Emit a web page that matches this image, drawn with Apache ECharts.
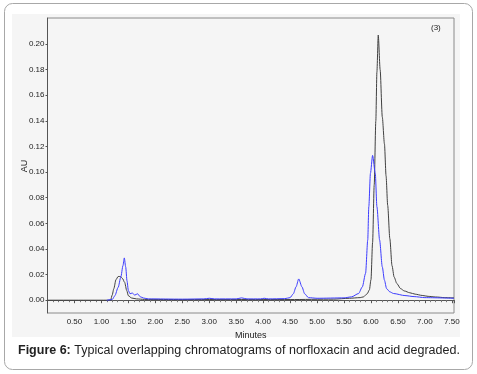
<!DOCTYPE html>
<html>
<head>
<meta charset="utf-8">
<script src="https://cdn.jsdelivr.net/npm/echarts@6/dist/echarts.min.js"></script>
<style>
  html, body { margin: 0; padding: 0; background: #fff; }
  #chart { width: 477px; height: 374px; }
</style>
</head>
<body>
<div id="chart"></div>
<script>
"use strict";

// 读图得到的数据 (minutes / AU)
var blackTime = [0, 1.17, 1.2, 1.23, 1.27, 1.31, 1.35, 1.39, 1.43, 1.47, 1.5, 1.56, 1.65, 1.8, 2.5, 3.5, 4.5, 5.3,
    5.6, 5.8, 5.86, 5.93, 5.97, 6.0, 6.03, 6.06, 6.09, 6.11, 6.135, 6.17, 6.21, 6.25, 6.28, 6.31, 6.35, 6.39,
    6.43, 6.48, 6.55, 6.62, 6.72, 6.82, 6.95, 7.06, 7.2, 7.37, 7.54];
var blackAU = [0, 0, 0.004, 0.009, 0.016, 0.0185, 0.0185, 0.017, 0.014, 0.0075, 0.0035, 0.0017, 0.001, 0.0006, 0.0005, 0.0005, 0.0005, 0.0008,
    0.0015, 0.002, 0.0026, 0.005, 0.008, 0.016, 0.045, 0.09, 0.14, 0.178, 0.207, 0.18, 0.143, 0.122, 0.097, 0.074, 0.048, 0.027,
    0.018, 0.013, 0.009, 0.0072, 0.0058, 0.0047, 0.0037, 0.003, 0.0025, 0.002, 0.0018];

var blueTime = [1.1, 1.2, 1.25, 1.31, 1.36, 1.4, 1.425, 1.45, 1.475, 1.5, 1.53, 1.57, 1.62, 1.67, 1.72, 1.78, 1.87,
    2.5, 2.9, 3.0, 3.1, 3.5, 3.6, 3.7, 3.95, 4.02, 4.1, 4.4, 4.5, 4.56, 4.61, 4.66, 4.72, 4.77, 4.84, 5.0, 5.5,
    5.64, 5.77, 5.84, 5.9, 5.94, 5.96, 5.99, 6.03, 6.08, 6.11, 6.16, 6.21, 6.25, 6.29, 6.35, 6.42, 6.63, 6.8, 7.0, 7.54];
var blueAU = [0, 0.0005, 0.0035, 0.01, 0.018, 0.027, 0.033, 0.026, 0.015, 0.0075, 0.005, 0.0056, 0.004, 0.005, 0.0027, 0.0017, 0.001,
    0.0008, 0.001, 0.0015, 0.001, 0.001, 0.0018, 0.001, 0.001, 0.0015, 0.001, 0.0012, 0.002, 0.005, 0.0104, 0.0166, 0.0104, 0.005, 0.002, 0.0015, 0.0018,
    0.0026, 0.0052, 0.0104, 0.021, 0.047, 0.073, 0.099, 0.113, 0.099, 0.073, 0.047, 0.026, 0.0156, 0.009, 0.0065, 0.0052, 0.0036, 0.0028, 0.002, 0.0015];

var yTicks = [0, 0.02, 0.04, 0.06, 0.08, 0.1, 0.12, 0.14, 0.16, 0.18, 0.2];

function pairs(xs, ys) {
    return xs.map(function (x, i) { return [x, ys[i]]; });
}

var font = "Arial, 'Liberation Sans', sans-serif";
var myChart = echarts.init(document.getElementById("chart"), null, { renderer: "canvas" });

var option = {
    backgroundColor: "#fff",
    animation: false,
    graphic: [
        // 外框
        {
            type: "rect", z: -10, silent: true,
            shape: { x: 4.5, y: 3.5, width: 468, height: 366, r: 8 },
            style: { fill: "#fff", stroke: "#a8a8a8", lineWidth: 1 }
        },
        // 图表底色
        {
            type: "rect", z: -9, silent: true,
            shape: { x: 12, y: 14, width: 448, height: 323 },
            style: { fill: "#f5f5f5" }
        },
        {
            type: "text", left: 431, top: 24,
            style: { text: "(3)", font: "8px " + font, fill: "#222" }
        },
        // y轴名称
        {
            type: "text", x: 25, y: 166, rotation: Math.PI / 2,
            style: { text: "AU", font: "9px " + font, fill: "#222", align: "center", verticalAlign: "middle" }
        },
        {
            type: "text", left: 18, top: 344,
            style: {
                text: "{b|Figure 6:} Typical overlapping chromatograms of norfloxacin and acid degraded.",
                font: "12.5px " + font, fill: "#222",
                rich: { b: { fontWeight: "bold", fontSize: 12.5, fontFamily: font, fill: "#222" } }
            }
        }
    ],
    grid: {
        left: 47.5, top: 18, right: 23, bottom: 61,
        show: true, borderColor: "#8a8a8a", borderWidth: 1, backgroundColor: "#f5f5f5"
    },
    xAxis: {
        type: "value",
        min: 0, max: 7.54, interval: 0.5,
        name: "Minutes", nameLocation: "middle", nameGap: 14,
        nameTextStyle: { fontSize: 9, fontFamily: font, color: "#222" },
        splitLine: { show: false },
        axisLine: { lineStyle: { color: "#555", width: 1 } },
        axisTick: { length: 3, lineStyle: { color: "#555" } },
        minorTick: { show: true, splitNumber: 5, length: 2, lineStyle: { color: "#777" } },
        axisLabel: {
            fontSize: 8, fontFamily: font, color: "#222", margin: 5,
            formatter: function (v) {
                if (v < 0.25 || Math.abs(v * 2 - Math.round(v * 2)) > 1e-6) return "";
                return v.toFixed(2);
            }
        }
    },
    yAxis: {
        type: "value",
        min: -0.01, max: 0.2203,
        splitLine: { show: false },
        axisLine: { show: true, lineStyle: { color: "#555", width: 1 } },
        axisTick: { show: true, length: 2, customValues: yTicks, lineStyle: { color: "#555" } },
        axisLabel: {
            fontSize: 8, fontFamily: font, color: "#222", margin: 3,
            customValues: yTicks,
            formatter: function (v) { return v.toFixed(2); }
        }
    },
    series: [
        {
            name: "norfloxacin", type: "line",
            data: pairs(blackTime, blackAU),
            showSymbol: false, smooth: 0.25, smoothMonotone: "x",
            lineStyle: { color: "#404040", width: 1 }, z: 2
        },
        {
            name: "acid degraded", type: "line",
            data: pairs(blueTime, blueAU),
            showSymbol: false, smooth: 0.25, smoothMonotone: "x",
            lineStyle: { color: "#3c3cff", width: 1 }, z: 3
        }
    ]
};

myChart.setOption(option);
</script>
</body>
</html>
